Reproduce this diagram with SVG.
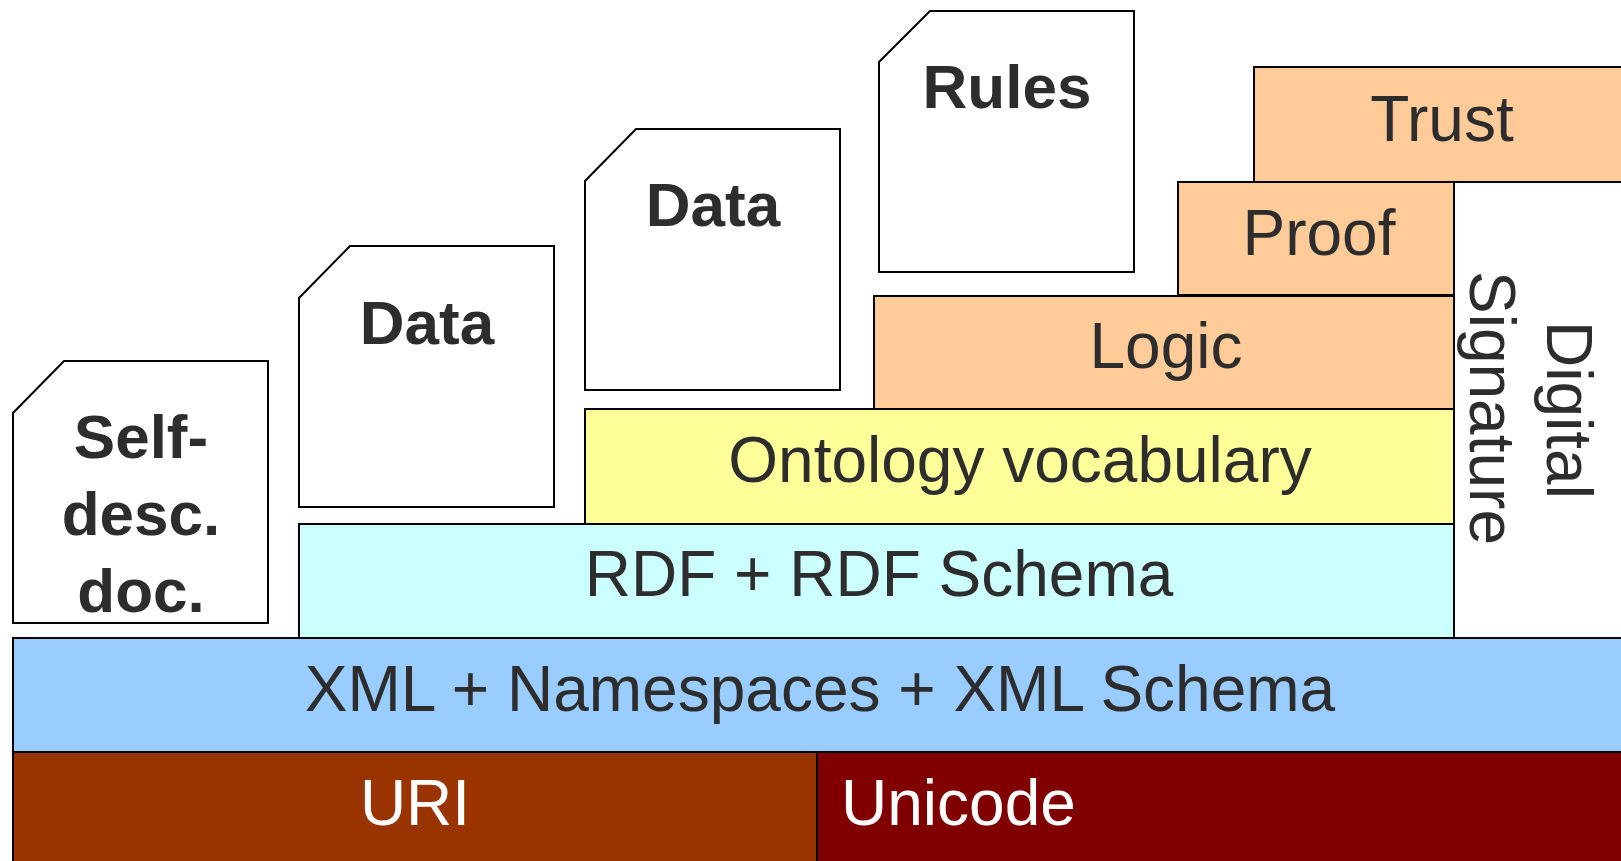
<svg xmlns="http://www.w3.org/2000/svg" width="1621" height="861" viewBox="0 0 1621 861">
<style>
  .box { stroke: #000; stroke-width: 2; }
  .doc { fill: #fff; stroke: #000; stroke-width: 2; stroke-linejoin: miter; }
  .lbl { font-family: "Liberation Sans", Arial, sans-serif; font-size: 64px; fill: #2d2d2d; text-anchor: middle; }
  .bold { font-family: "Liberation Sans", Arial, sans-serif; font-size: 62px; font-weight: bold; fill: #2d2d2d; text-anchor: middle; }
  .white { fill: #fff; }
  .orange { fill: #FFCC99; }
</style>
<rect x="0" y="0" width="1621" height="861" fill="#fff"/>

<g id="digital-signature">
  <rect class="box" x="1454" y="182" width="200" height="456" fill="#fff"/>
  <text class="lbl" transform="translate(1547,410) rotate(90)">Digital</text>
  <text class="lbl" transform="translate(1470,408) rotate(90)">Signature</text>
</g>

<g id="trust">
  <rect class="box orange" x="1254" y="67" width="400" height="115"/>
  <text class="lbl" x="1442" y="141">Trust</text>
</g>

<g id="proof">
  <rect class="box orange" x="1178" y="182" width="276" height="113"/>
  <text class="lbl" x="1319" y="255">Proof</text>
</g>

<g id="logic">
  <rect class="box orange" x="874" y="296" width="580" height="113"/>
  <text class="lbl" x="1166" y="368">Logic</text>
</g>

<g id="ontology">
  <rect class="box" x="585" y="409" width="869" height="115" fill="#FFFF99"/>
  <text class="lbl" x="1020" y="482">Ontology vocabulary</text>
</g>

<g id="rdf">
  <rect class="box" x="299" y="524" width="1155" height="114" fill="#CCFFFF"/>
  <text class="lbl" x="879" y="596">RDF + RDF Schema</text>
</g>

<g id="xml">
  <rect class="box" x="13" y="638" width="1640" height="114" fill="#99CCFF"/>
  <text class="lbl" x="820" y="711">XML + Namespaces + XML Schema</text>
</g>

<g id="uri">
  <rect class="box" x="13" y="752" width="804" height="130" fill="#993300"/>
  <text class="lbl white" x="415" y="825">URI</text>
</g>

<g id="unicode">
  <rect class="box" x="817" y="752" width="836" height="130" fill="#800000"/>
  <text class="lbl white" x="841" y="825" style="text-anchor:start">Unicode</text>
</g>

<g id="self-desc-doc">
  <polygon class="doc" points="64,361 268,361 268,623 13,623 13,413"/>
  <text class="bold" x="141" y="458">Self-</text>
  <text class="bold" x="141" y="535">desc.</text>
  <text class="bold" x="141" y="612">doc.</text>
</g>

<g id="data-1">
  <polygon class="doc" points="350,246 554,246 554,507 299,507 299,298"/>
  <text class="bold" x="427" y="344">Data</text>
</g>

<g id="data-2">
  <polygon class="doc" points="636,129 840,129 840,390 585,390 585,181"/>
  <text class="bold" x="713" y="226">Data</text>
</g>

<g id="rules">
  <polygon class="doc" points="930,11 1134,11 1134,272 879,272 879,62"/>
  <text class="bold" x="1007" y="108">Rules</text>
</g>
</svg>
